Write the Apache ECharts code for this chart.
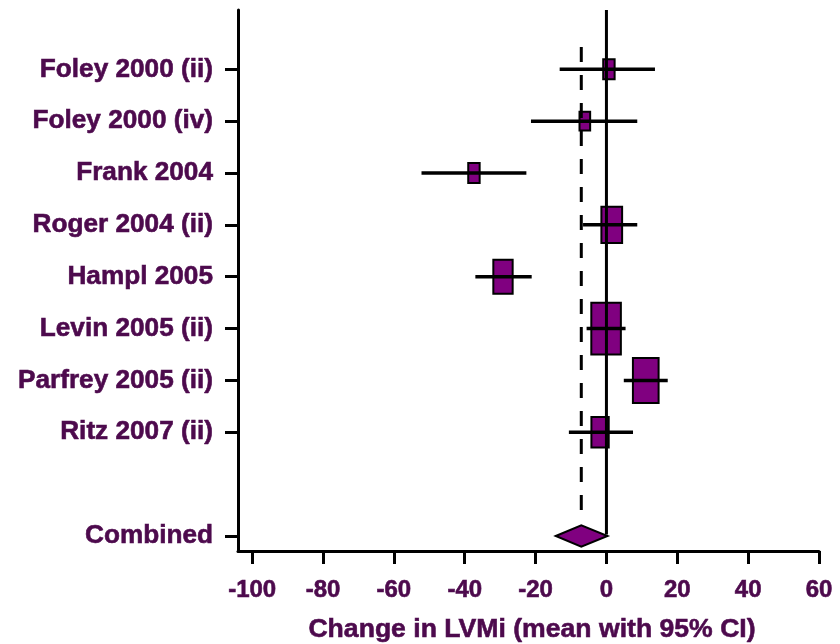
<!DOCTYPE html>
<html>
<head>
<meta charset="utf-8">
<script src="https://cdn.jsdelivr.net/npm/echarts@6.0.0/dist/echarts.min.js"></script>
<style>
  html, body { margin: 0; padding: 0; background: #ffffff; }
  #chart { width: 840px; height: 644px; }
</style>
</head>
<body>
<div id="chart"></div>
<script>
// ---- data ----
const studies = ['Foley 2000 (ii)', 'Foley 2000 (iv)', 'Frank 2004', 'Roger 2004 (ii)',
                 'Hampl 2005', 'Levin 2005 (ii)', 'Parfrey 2005 (ii)', 'Ritz 2007 (ii)'];
const means   = [0.7, -6.1, -37.4, 1.5, -29.2, -0.1, 11.1, -1.8];
const lower   = [-13.2, -21.3, -52.2, -6.6, -37.0, -5.6, 4.9, -10.6];
const upper   = [13.7, 8.7, -22.6, 8.7, -21.1, 5.4, 17.3, 7.5];
const weights = [8.1, 7.6, 8.1, 14.1, 13.2, 19.8, 17.3, 11.9]; // relative study weight (%)
const combinedLabel = 'Combined';
const combinedMean  = -7.1;
const combinedLower = -14.3;
const combinedUpper = 0.3;
const xTicks = [-100, -80, -60, -40, -20, 0, 20, 40, 60];
const xTitle = 'Change in LVMi (mean with 95% CI)';

// ---- derived rows ----
const rowLabels = studies.concat(['', combinedLabel]);
const studyRows = studies.map((s, i) => i + 1);
const combinedRow = rowLabels.length;
const labelRows = rowLabels.map((s, i) => i + 1).filter((r) => rowLabels[r - 1] !== '');

const textColor = '#4d0a4d';
const fontFamily = '"Liberation Sans", Arial, Helvetica, sans-serif';
const heavy = { textBorderColor: textColor, textBorderWidth: 0.6 };

const chart = echarts.init(document.getElementById('chart'), null, { renderer: 'canvas' });

const boxData = studies.map((s, i) => [means[i], studyRows[i], weights[i]]);
const ciData = studies.map((s, i) => [lower[i], upper[i], studyRows[i]]);

chart.setOption({
  animation: false,
  backgroundColor: '#ffffff',
  grid: { left: 238, right: 21, top: 10, bottom: 93, containLabel: false, outerBoundsMode: 'none' },
  xAxis: {
    type: 'value',
    min: -104,
    max: 60,
    splitLine: { show: false },
    axisLine: { show: true, onZero: false, lineStyle: { color: '#000', width: 3 } },
    axisTick: { show: true, customValues: xTicks, length: 13, inside: false, lineStyle: { color: '#000', width: 3 } },
    axisLabel: Object.assign({
      customValues: xTicks, margin: 27,
      color: textColor, fontSize: 24, fontWeight: 'bold', fontFamily: fontFamily
    }, heavy),
    name: xTitle,
    nameLocation: 'middle',
    nameGap: 65,
    nameTextStyle: Object.assign({ color: textColor, fontSize: 26.6, fontWeight: 'bold', fontFamily: fontFamily, padding: [0, 0, 0, 7] }, heavy)
  },
  yAxis: {
    type: 'value',
    inverse: true,
    min: -0.144,
    max: 10.29,
    splitLine: { show: false },
    axisLine: { show: true, onZero: false, lineStyle: { color: '#000', width: 3 } },
    axisTick: { show: true, customValues: labelRows, length: 13, inside: false, lineStyle: { color: '#000', width: 3 } },
    axisLabel: Object.assign({
      customValues: labelRows, margin: 25,
      color: textColor, fontSize: 26.2, fontWeight: 'bold', fontFamily: fontFamily,
      formatter: (v) => rowLabels[Math.round(v) - 1] || ''
    }, heavy)
  },
  series: [
    {
      // study boxes (size ~ weight)
      type: 'custom', z: 2, clip: false,
      data: boxData,
      renderItem: (params, api) => {
        const c = api.coord([api.value(0), api.value(1)]);
        const h = api.value(2) * 2.72 - 2;
        const w = h * 0.57;
        return {
          type: 'rect',
          shape: { x: c[0] - w / 2, y: c[1] - h / 2, width: w, height: h },
          style: { fill: '#800080', stroke: '#000', lineWidth: 2 }
        };
      }
    },
    {
      // confidence intervals
      type: 'custom', z: 4, clip: false,
      data: ciData,
      renderItem: (params, api) => {
        const a = api.coord([api.value(0), api.value(2)]);
        const b = api.coord([api.value(1), api.value(2)]);
        return {
          type: 'line',
          shape: { x1: a[0], y1: a[1], x2: b[0], y2: b[1] },
          style: { stroke: '#000', lineWidth: 3.5 }
        };
      }
    },
    {
      // no-effect line at 0 and pooled-mean dashed line
      type: 'custom', z: 5, clip: false,
      data: [[0, combinedMean, combinedRow]],
      renderItem: (params, api) => {
        const zTop = api.coord([api.value(0), -0.144]);
        const zBot = api.coord([api.value(0), api.value(2) - 0.03]);
        const dTop = api.coord([api.value(1), 0.57]);
        const dBot = api.coord([api.value(1), api.value(2) - 0.5]);
        return {
          type: 'group',
          children: [
            { type: 'line', shape: { x1: zTop[0], y1: zTop[1], x2: zBot[0], y2: zBot[1] },
              style: { stroke: '#000', lineWidth: 3 } },
            { type: 'line', shape: { x1: dTop[0], y1: dTop[1], x2: dBot[0], y2: dBot[1] },
              style: { stroke: '#000', lineWidth: 3, lineDash: [15, 13] } }
          ]
        };
      }
    },
    {
      // pooled estimate diamond
      type: 'custom', z: 6, clip: false,
      data: [[combinedMean, combinedLower, combinedUpper, combinedRow]],
      renderItem: (params, api) => {
        const m = api.coord([api.value(0), api.value(3)]);
        const l = api.coord([api.value(1), api.value(3)]);
        const r = api.coord([api.value(2), api.value(3)]);
        const hh = 10.7;
        return {
          type: 'polygon',
          shape: { points: [[l[0], l[1]], [m[0], m[1] - hh], [r[0], r[1]], [m[0], m[1] + hh]] },
          style: { fill: '#800080', stroke: '#000', lineWidth: 2 }
        };
      }
    }
  ]
});
</script>
</body>
</html>
